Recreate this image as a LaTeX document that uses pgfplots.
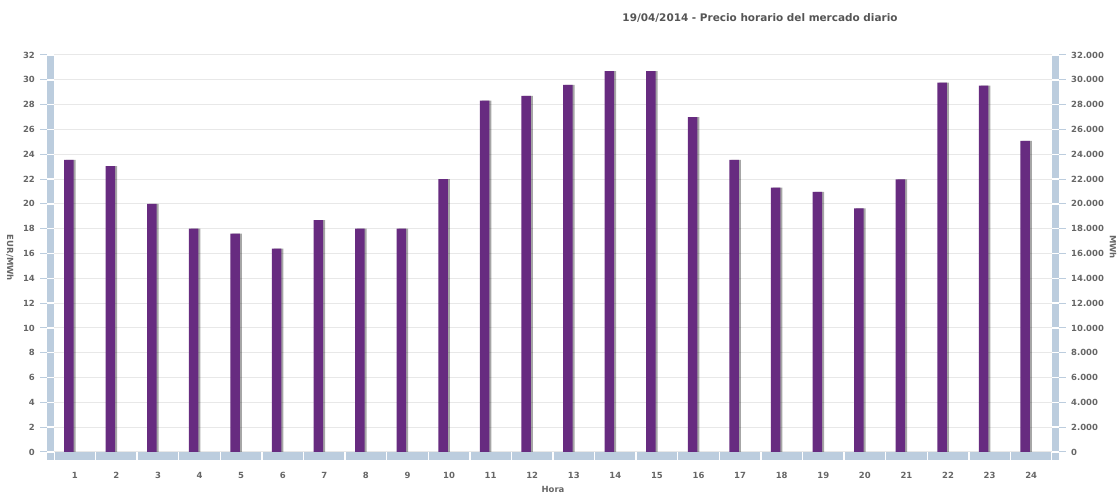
\documentclass[border=0pt]{standalone}
\usepackage{fontspec}
\setmainfont{DejaVu Sans}
\usepackage{pgfplots}
\usepackage{pgfplotstable}
\pgfplotsset{compat=1.18}
\definecolor{barcol}{RGB}{103,43,128}
\definecolor{band}{RGB}{188,205,222}
\definecolor{gridc}{RGB}{232,232,232}
\definecolor{txt}{RGB}{102,102,102}
\definecolor{ttl}{RGB}{85,85,85}
\pgfplotstableread{
hora precio
1 23.54
2 23.05
3 20.0
4 18.0
5 17.6
6 16.4
7 18.68
8 18.0
9 18.0
10 22.0
11 28.32
12 28.7
13 29.6
14 30.7
15 30.7
16 27.0
17 23.54
18 21.3
19 20.96
20 19.64
21 21.98
22 29.77
23 29.53
24 25.07
}\precios
\newcommand\tickfont{\fontsize{8.5}{10}\selectfont\bfseries}
\begin{document}
\begin{tikzpicture}[x=1bp,y=1bp]
\useasboundingbox (0,0) rectangle (1119,494);
\begin{axis}[
  at={(54bp,42bp)}, anchor=south west, scale only axis,
  width=998bp, height=397bp,
  xmin=0.5, xmax=24.5, ymin=0, ymax=32,
  xtick={1,...,24}, ytick={0,2,...,32},
  axis line style={draw=none}, major tick length=0pt,
  ymajorgrids, major grid style={gridc, line width=1bp},
  tick label style={font=\tickfont, text=txt},
  /pgf/number format/assume math mode=true,
  yticklabel style={anchor=east, inner sep=0pt, xshift=-19bp},
  xticklabel style={anchor=center, inner sep=0pt, yshift=-23bp},
  ytick pos=left, xtick pos=bottom,
  ybar, bar width=9.5bp,
]
\addplot[draw=none, fill=black, fill opacity=0.35, bar shift=-4bp] table[x=hora, y=precio] {\precios};
\addplot[draw=none, fill=barcol, bar shift=-6bp] table[x=hora, y=precio] {\precios};
\end{axis}
\begin{axis}[
  at={(54bp,42bp)}, anchor=south west, scale only axis,
  width=998bp, height=397bp,
  xmin=0.5, xmax=24.5, ymin=0, ymax=32000,
  xtick=\empty, ytick={0,2000,...,32000},
  ytick pos=right, yticklabel pos=right,
  axis line style={draw=none}, major tick length=0pt,
  scaled y ticks=false,
  tick label style={font=\tickfont, text=txt},
  /pgf/number format/assume math mode=true,
  /pgf/number format/fixed,
  /pgf/number format/1000 sep={.},
  yticklabel style={anchor=west, inner sep=0pt, xshift=19bp},
]
\end{axis}
% bands
\foreach \k in {0,...,15} {
  \fill[band] (47,{42+\k*24.8125+0.7}) rectangle (54,{42+(\k+1)*24.8125-0.7});
  \fill[band] (1052,{42+\k*24.8125+0.7}) rectangle (1059,{42+(\k+1)*24.8125-0.7});
}
\fill[band] (47,34) rectangle (54,41.3);
\fill[band] (1052,34) rectangle (1059,41.3);
\foreach \k in {0,...,16} {
  \draw[band, line width=1bp] (40,{42+\k*24.8125}) -- (47,{42+\k*24.8125});
  \draw[band, line width=1bp] (1059,{42+\k*24.8125}) -- (1066,{42+\k*24.8125});
}
\foreach \k in {0,...,23} {
  \fill[band] ({54+\k*41.5833+0.7},34) rectangle ({54+(\k+1)*41.5833-0.7},42);
}
% labels
\node[rotate=-90, font=\tickfont, text=txt] at (10,236) {EUR/MWh};
\node[rotate=-90, font=\tickfont, text=txt] at (1113,247) {MWh};
\node[anchor=north, font=\tickfont, text=txt, inner sep=0pt] at (553,8) {Hora};
\node[font=\fontsize{10.5}{12}\selectfont\bfseries, text=ttl] at (760,476) {19/04/2014 - Precio horario del mercado diario};
\end{tikzpicture}
\end{document}
